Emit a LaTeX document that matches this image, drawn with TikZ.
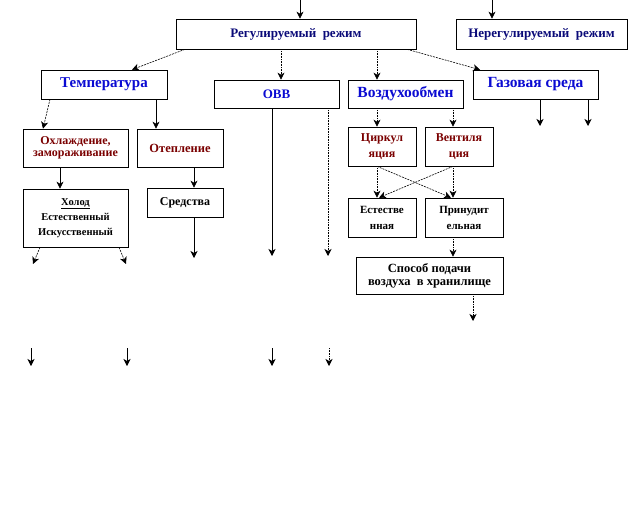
\documentclass[tikz,border=0pt]{standalone}
\usepackage{fontspec}
\setmainfont{Liberation Serif}
\usetikzlibrary{calc, arrows.meta}
\definecolor{tnavy}{HTML}{0A0A78}
\definecolor{tblue}{HTML}{0A0AD2}
\definecolor{tred}{HTML}{7A0000}

\begin{document}
\begin{tikzpicture}[x=1pt,y=-1pt,>={Stealth[length=7pt,width=7pt,inset=2pt]},
	box/.style={draw,semithick,align=center,inner sep=1pt},
	dt/.style={densely dotted,semithick},
	dsh/.style={dash pattern=on 2pt off 1pt,semithick}]
		\useasboundingbox (0,0) rectangle (630,514); %поле
		\node[box,minimum width=240,minimum height=30,text=tnavy,font=\bfseries\fontsize{13}{14}\selectfont] (reg) at (296,34) {Регулируемый\ \ режим};
		\node[box,minimum width=171,minimum height=30,text=tnavy,font=\bfseries\fontsize{13}{14}\selectfont] (nereg) at (541.5,34) {Нерегулируемый\ \ режим};
		\node[box,minimum width=126,minimum height=29,text=tblue,font=\bfseries\fontsize{15}{17}\selectfont] (temp) at (104,84.5) {Температура};
		\node[box,minimum width=125,minimum height=28,text=tblue,font=\bfseries\fontsize{13}{15}\selectfont] (ovv) at (276.5,94) {ОВВ};
		\node[box,minimum width=115,minimum height=28,text=tblue,font=\bfseries\fontsize{15.5}{17}\selectfont] (vozd) at (405.5,94) {Воздухообмен};
		\node[box,minimum width=125,minimum height=29,text=tblue,font=\bfseries\fontsize{15.5}{17}\selectfont] (gaz) at (535.5,84.5) {Газовая среда};
		\node[box,minimum width=105,minimum height=38,text=tred,font=\bfseries\fontsize{12}{12.5}\selectfont] (ohl) at (75.5,148) {Охлаждение,\\замораживание};
		\node[box,minimum width=86,minimum height=38,text=tred,font=\bfseries\fontsize{12.5}{13}\selectfont] (otep) at (180,148) {Отепление};
		\node[box,minimum width=105,minimum height=58,font=\bfseries\fontsize{10.5}{15}\selectfont] (holod) at (75.5,218) {\underline{Холод}\\Естественный\\Искусственный};
		\node[box,minimum width=76,minimum height=29,font=\bfseries\fontsize{12}{13}\selectfont] (sredst) at (185,202.5) {Средства};
		\node[box,minimum width=68,minimum height=39,text=tred,font=\bfseries\fontsize{12}{16}\selectfont] (cirk) at (382,146.5) {Циркул\\яция};
		\node[box,minimum width=68,minimum height=39,text=tred,font=\bfseries\fontsize{12}{16}\selectfont] (vent) at (459,146.5) {Вентиля\\ция};
		\node[box,minimum width=68,minimum height=39,font=\bfseries\fontsize{11}{16}\selectfont] (estest) at (382,217.5) {Естестве\\нная};
		\node[box,minimum width=78,minimum height=39,font=\bfseries\fontsize{11}{16}\selectfont] (prin) at (464,217.5) {Принудит\\ельная};
		\node[box,minimum width=147,minimum height=37,font=\bfseries\fontsize{12.5}{13}\selectfont] (sposob) at (429.5,275.5) {Способ подачи\\воздуха\ \ в хранилище};
		\coordinate (in1) at (300,0); %вход
		\coordinate (in2) at (492,0);
		\coordinate (g1) at (540,126);
		\coordinate (g2) at (588,126);
		\coordinate (s1) at (194,258);
		\coordinate (h1) at (33,264);
		\coordinate (h2) at (126,264);
		\coordinate (o1) at (272,256);
		\coordinate (o2) at (328,256);
		\coordinate (sp) at (473,321);
		\coordinate (b1) at (31,348); \coordinate (e1) at (31,366); %нижний ряд
		\coordinate (b2) at (127,348); \coordinate (e2) at (127,366);
		\coordinate (b3) at (272,348); \coordinate (e3) at (272,366);
		\coordinate (b4) at (329,348); \coordinate (e4) at (329,366);
		\draw[->,semithick] (in1)--(in1 |- reg.north);
		\draw[->,semithick] (in2)--(in2 |- nereg.north);
		\draw[->,dsh] (reg.south -| 185,0)--(temp.north -| 132,0);
		\draw[->,dt] (reg.south -| 281,0)--(ovv.north -| 281,0);
		\draw[->,dt] (reg.south -| 377,0)--(vozd.north -| 377,0);
		\draw[->,dsh] (reg.south -| 407,0)--(gaz.north -| 480,0);
		\draw[->,semithick] (gaz.south -| g1)--(g1);
		\draw[->,semithick] (gaz.south -| g2)--(g2);
		\draw[->,dsh] (temp.south -| 50,0)--(ohl.north -| 43,0);
		\draw[->,semithick] (temp.south -| 156,0)--(otep.north -| 156,0);
		\draw[->,semithick] (ohl.south -| 60,0)--(holod.north -| 60,0);
		\draw[->,semithick] (otep.south -| 194,0)--(sredst.north -| 194,0);
		\draw[->,semithick] (sredst.south -| s1)--(s1);
		\draw[->,dsh] (holod.south -| 40,0)--(h1);
		\draw[->,dsh] (holod.south -| 119,0)--(h2);
		\draw[->,semithick] (ovv.south -| o1)--(o1);
		\draw[->,dt] (ovv.south -| o2)--(o2);
		\draw[->,dt] (vozd.south -| 377,0)--(cirk.north -| 377,0);
		\draw[->,dt] (vozd.south -| 453,0)--(vent.north -| 453,0);
		\draw[->,dt] (cirk.south -| 377,0)--(estest.north -| 377,0);
		\draw[->,dsh] (cirk.south -| 377,0)--(prin.north -| 451,0);
		\draw[->,dt] (vent.south -| 453,0)--(prin.north -| 453,0);
		\draw[->,dsh] (vent.south -| 453,0)--(estest.north -| 379,0);
		\draw[->,dt] (prin.south -| 453,0)--(sposob.north -| 453,0);
		\draw[->,dt] (sposob.south -| sp)--(sp);
		\draw[->,semithick] (b1)--(e1);
		\draw[->,semithick] (b2)--(e2);
		\draw[->,semithick] (b3)--(e3);
		\draw[->,dt] (b4)--(e4);
	\end{tikzpicture}
\end{document}
